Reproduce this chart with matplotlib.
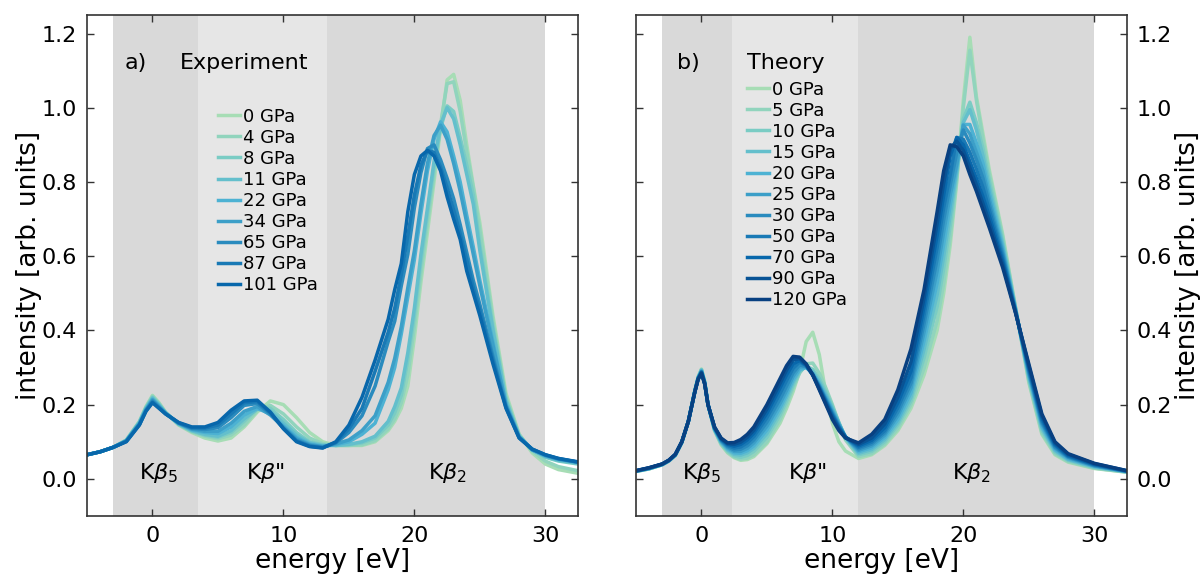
import numpy as np
import matplotlib.pyplot as plt

# energy grids (eV)
energy_exp = [-5, -4, -3, -2, -1, -0.5, 0, 0.5, 1, 2, 3, 4, 5, 6, 7, 8, 9, 10, 11, 12, 13,
              14, 15, 16, 17, 18, 18.5, 19, 19.5, 20, 20.5, 21, 21.5, 22, 22.5, 23, 23.5,
              24, 24.5, 25, 26, 27, 28, 29, 30, 31, 32.5]

energy_th = [-5, -4, -3, -2.5, -2, -1.5, -1, -0.5, -0.25, 0, 0.25, 0.5, 1, 1.5, 2, 2.5, 3,
             3.5, 4, 5, 6, 6.5, 7, 7.5, 8, 8.5, 9, 9.5, 10, 10.5, 11, 12, 13, 14, 15, 16,
             17, 18, 18.5, 19, 19.5, 20, 20.5, 21, 21.5, 22, 23, 24, 25, 26, 27, 28, 30, 32.5]

# measured spectra
exp_0 = [0.065, 0.073, 0.085, 0.105, 0.155, 0.195, 0.225, 0.205, 0.18, 0.145, 0.125, 0.11,
         0.102, 0.11, 0.14, 0.18, 0.21, 0.2, 0.165, 0.125, 0.1,
         0.09, 0.09, 0.09, 0.1, 0.13, 0.155, 0.19, 0.25, 0.38, 0.53, 0.665, 0.8, 0.945,
         1.075, 1.09, 1.02, 0.9, 0.79, 0.69, 0.44, 0.23, 0.12, 0.07, 0.04, 0.025, 0.015]
exp_4 = [0.065, 0.073, 0.085, 0.104, 0.154, 0.193, 0.223, 0.203, 0.179, 0.146, 0.127, 0.115,
         0.108, 0.118, 0.145, 0.185, 0.198, 0.175, 0.14, 0.11, 0.095,
         0.09, 0.09, 0.092, 0.103, 0.135, 0.162, 0.205, 0.28, 0.41, 0.555, 0.69, 0.82, 0.955,
         1.065, 1.07, 0.99, 0.88, 0.785, 0.67, 0.425, 0.22, 0.12, 0.075, 0.048, 0.033, 0.022]
exp_8 = [0.065, 0.073, 0.085, 0.104, 0.153, 0.191, 0.22, 0.201, 0.178, 0.147, 0.129, 0.118,
         0.112, 0.125, 0.155, 0.19, 0.19, 0.16, 0.125, 0.1, 0.092,
         0.09, 0.092, 0.097, 0.11, 0.145, 0.178, 0.225, 0.32, 0.44, 0.585, 0.715, 0.84, 0.945,
         1.005, 0.99, 0.92, 0.845, 0.765, 0.63, 0.41, 0.215, 0.115, 0.078, 0.058, 0.048, 0.04]
exp_11 = [0.065, 0.073, 0.085, 0.103, 0.152, 0.19, 0.218, 0.199, 0.178, 0.148, 0.13, 0.12,
          0.115, 0.13, 0.162, 0.188, 0.183, 0.15, 0.118, 0.097, 0.09,
          0.09, 0.093, 0.1, 0.115, 0.155, 0.195, 0.245, 0.34, 0.46, 0.605, 0.73, 0.855, 0.955,
          1.0, 0.97, 0.9, 0.82, 0.74, 0.615, 0.4, 0.21, 0.115, 0.078, 0.06, 0.05, 0.042]
exp_22 = [0.065, 0.073, 0.085, 0.103, 0.15, 0.188, 0.215, 0.197, 0.177, 0.149, 0.132, 0.125,
          0.122, 0.14, 0.172, 0.19, 0.175, 0.143, 0.112, 0.094, 0.088,
          0.092, 0.1, 0.12, 0.15, 0.24, 0.3, 0.39, 0.49, 0.59, 0.715, 0.83, 0.915, 0.962,
          0.935, 0.87, 0.8, 0.71, 0.625, 0.535, 0.37, 0.2, 0.115, 0.078, 0.062, 0.052, 0.044]
exp_34 = [0.065, 0.073, 0.085, 0.102, 0.149, 0.186, 0.213, 0.195, 0.177, 0.15, 0.134, 0.128,
          0.128, 0.15, 0.182, 0.195, 0.172, 0.14, 0.108, 0.092, 0.087,
          0.094, 0.105, 0.13, 0.17, 0.26, 0.325, 0.41, 0.515, 0.615, 0.74, 0.85, 0.925, 0.953,
          0.915, 0.85, 0.775, 0.69, 0.605, 0.52, 0.36, 0.2, 0.113, 0.078, 0.063, 0.053, 0.045]
exp_65 = [0.065, 0.073, 0.085, 0.102, 0.147, 0.185, 0.21, 0.193, 0.176, 0.15, 0.136, 0.133,
          0.138, 0.165, 0.198, 0.203, 0.175, 0.137, 0.104, 0.09, 0.085,
          0.097, 0.125, 0.17, 0.25, 0.37, 0.425, 0.52, 0.605, 0.73, 0.825, 0.89, 0.9, 0.86,
          0.81, 0.755, 0.685, 0.61, 0.535, 0.47, 0.33, 0.195, 0.112, 0.08, 0.064, 0.054, 0.045]
exp_87 = [0.065, 0.073, 0.085, 0.101, 0.146, 0.183, 0.207, 0.191, 0.175, 0.151, 0.138, 0.137,
          0.145, 0.175, 0.205, 0.208, 0.178, 0.136, 0.102, 0.088, 0.084,
          0.098, 0.135, 0.19, 0.29, 0.395, 0.46, 0.55, 0.655, 0.765, 0.845, 0.885, 0.88, 0.84,
          0.785, 0.725, 0.66, 0.59, 0.515, 0.455, 0.32, 0.192, 0.111, 0.08, 0.065, 0.055, 0.045]
exp_101 = [0.065, 0.073, 0.085, 0.1, 0.145, 0.182, 0.205, 0.19, 0.175, 0.152, 0.14, 0.14,
           0.152, 0.185, 0.21, 0.212, 0.18, 0.135, 0.1, 0.087, 0.083,
           0.1, 0.145, 0.22, 0.32, 0.43, 0.51, 0.58, 0.72, 0.82, 0.87, 0.885, 0.87, 0.83,
           0.76, 0.7, 0.645, 0.56, 0.5, 0.44, 0.31, 0.19, 0.11, 0.08, 0.065, 0.055, 0.046]

# calculated spectra
th_0 = [0.02, 0.027, 0.038, 0.048, 0.063, 0.098, 0.155, 0.238, 0.275, 0.296, 0.262, 0.2,
        0.13, 0.092, 0.07, 0.057, 0.05, 0.052, 0.06, 0.095, 0.15, 0.19, 0.235, 0.29, 0.37,
        0.395, 0.335, 0.23, 0.15, 0.1, 0.075, 0.055, 0.065, 0.09, 0.13, 0.19, 0.28, 0.4,
        0.5, 0.63, 0.8, 1.02, 1.19, 1.03, 0.93, 0.83, 0.66, 0.46, 0.26, 0.12, 0.065, 0.045,
        0.028, 0.018]
th_5 = [0.02, 0.027, 0.038, 0.048, 0.063, 0.098, 0.155, 0.238, 0.274, 0.295, 0.261, 0.2,
        0.131, 0.094, 0.072, 0.059, 0.053, 0.056, 0.065, 0.1, 0.16, 0.2, 0.245, 0.285, 0.31,
        0.312, 0.285, 0.245, 0.2, 0.15, 0.105, 0.06, 0.068, 0.094, 0.136, 0.2, 0.298, 0.426,
        0.526, 0.652, 0.808, 1.0, 1.155, 1.02, 0.915, 0.818, 0.653, 0.459, 0.264, 0.124,
        0.068, 0.047, 0.029, 0.018]
th_10 = [0.02, 0.027, 0.038, 0.048, 0.063, 0.098, 0.155, 0.238, 0.274, 0.294, 0.261, 0.2,
         0.132, 0.096, 0.075, 0.062, 0.058, 0.063, 0.074, 0.112, 0.172, 0.21, 0.252, 0.288,
         0.304, 0.295, 0.27, 0.235, 0.195, 0.152, 0.11, 0.065, 0.074, 0.1, 0.145, 0.21, 0.326,
         0.464, 0.566, 0.684, 0.819, 0.97, 1.015, 0.96, 0.89, 0.8, 0.642, 0.457, 0.27, 0.131,
         0.072, 0.05, 0.031, 0.019]
th_15 = [0.021, 0.028, 0.038, 0.048, 0.064, 0.098, 0.155, 0.237, 0.273, 0.293, 0.26, 0.2,
         0.133, 0.098, 0.078, 0.066, 0.064, 0.07, 0.082, 0.122, 0.182, 0.22, 0.26, 0.292,
         0.302, 0.288, 0.262, 0.228, 0.19, 0.15, 0.112, 0.069, 0.079, 0.106, 0.152, 0.22,
         0.349, 0.496, 0.599, 0.711, 0.829, 0.96, 0.995, 0.94, 0.87, 0.784, 0.633, 0.456,
         0.275, 0.137, 0.076, 0.052, 0.032, 0.019]
th_20 = [0.021, 0.028, 0.039, 0.049, 0.064, 0.099, 0.155, 0.237, 0.272, 0.292, 0.259, 0.2,
         0.134, 0.1, 0.081, 0.07, 0.069, 0.076, 0.089, 0.132, 0.192, 0.228, 0.267, 0.295,
         0.3, 0.284, 0.256, 0.222, 0.186, 0.148, 0.113, 0.073, 0.084, 0.112, 0.16, 0.232,
         0.372, 0.528, 0.632, 0.738, 0.838, 0.955, 0.955, 0.905, 0.85, 0.768, 0.624, 0.454,
         0.28, 0.142, 0.079, 0.054, 0.034, 0.02]
th_25 = [0.021, 0.028, 0.039, 0.049, 0.064, 0.099, 0.155, 0.237, 0.272, 0.29, 0.259, 0.2,
         0.135, 0.102, 0.084, 0.074, 0.074, 0.082, 0.097, 0.142, 0.203, 0.238, 0.276, 0.302,
         0.302, 0.283, 0.252, 0.217, 0.181, 0.146, 0.113, 0.077, 0.089, 0.118, 0.17, 0.245,
         0.395, 0.56, 0.665, 0.765, 0.848, 0.953, 0.93, 0.88, 0.83, 0.752, 0.615, 0.452,
         0.285, 0.148, 0.083, 0.057, 0.035, 0.02]
th_30 = [0.021, 0.029, 0.039, 0.049, 0.065, 0.099, 0.155, 0.236, 0.271, 0.289, 0.258, 0.2,
         0.136, 0.104, 0.087, 0.078, 0.08, 0.089, 0.105, 0.153, 0.215, 0.25, 0.286, 0.307,
         0.303, 0.282, 0.25, 0.213, 0.177, 0.143, 0.113, 0.081, 0.094, 0.124, 0.18, 0.258,
         0.418, 0.592, 0.698, 0.792, 0.88, 0.94, 0.905, 0.86, 0.81, 0.737, 0.606, 0.451,
         0.29, 0.153, 0.086, 0.059, 0.036, 0.02]
th_50 = [0.021, 0.029, 0.039, 0.049, 0.065, 0.099, 0.155, 0.236, 0.27, 0.288, 0.257, 0.2,
         0.137, 0.106, 0.09, 0.083, 0.086, 0.097, 0.114, 0.165, 0.23, 0.265, 0.298, 0.315,
         0.305, 0.28, 0.247, 0.21, 0.173, 0.14, 0.113, 0.085, 0.099, 0.13, 0.192, 0.272,
         0.441, 0.624, 0.731, 0.819, 0.92, 0.915, 0.88, 0.835, 0.785, 0.722, 0.597, 0.45,
         0.295, 0.158, 0.09, 0.061, 0.038, 0.021]
th_70 = [0.022, 0.029, 0.04, 0.05, 0.065, 0.1, 0.155, 0.236, 0.27, 0.287, 0.257, 0.2,
         0.138, 0.107, 0.093, 0.088, 0.093, 0.105, 0.123, 0.177, 0.245, 0.28, 0.31, 0.319,
         0.306, 0.28, 0.245, 0.207, 0.17, 0.138, 0.113, 0.089, 0.104, 0.138, 0.205, 0.29,
         0.464, 0.656, 0.764, 0.87, 0.92, 0.9, 0.855, 0.81, 0.76, 0.706, 0.588, 0.448, 0.3,
         0.164, 0.093, 0.063, 0.039, 0.021]
th_90 = [0.022, 0.03, 0.04, 0.05, 0.066, 0.1, 0.155, 0.235, 0.269, 0.286, 0.256, 0.2,
         0.139, 0.109, 0.095, 0.093, 0.099, 0.112, 0.131, 0.188, 0.257, 0.293, 0.321, 0.324,
         0.308, 0.28, 0.242, 0.203, 0.165, 0.134, 0.111, 0.093, 0.11, 0.148, 0.22, 0.315,
         0.487, 0.688, 0.797, 0.89, 0.91, 0.885, 0.838, 0.792, 0.742, 0.69, 0.579, 0.447,
         0.305, 0.17, 0.097, 0.066, 0.041, 0.022]
th_120 = [0.022, 0.03, 0.04, 0.05, 0.066, 0.1, 0.155, 0.235, 0.268, 0.284, 0.255, 0.2,
          0.14, 0.11, 0.097, 0.098, 0.106, 0.12, 0.14, 0.2, 0.27, 0.305, 0.33, 0.328, 0.31,
          0.28, 0.24, 0.2, 0.16, 0.13, 0.11, 0.097, 0.12, 0.16, 0.24, 0.35, 0.51, 0.72, 0.83,
          0.9, 0.895, 0.87, 0.82, 0.775, 0.725, 0.675, 0.57, 0.445, 0.31, 0.175, 0.1, 0.068,
          0.042, 0.022]

exp_labels = ['0 GPa', '4 GPa', '8 GPa', '11 GPa', '22 GPa', '34 GPa', '65 GPa', '87 GPa', '101 GPa']
th_labels = ['0 GPa', '5 GPa', '10 GPa', '15 GPa', '20 GPa', '25 GPa', '30 GPa', '50 GPa',
             '70 GPa', '90 GPa', '120 GPa']

exp_curves = [exp_0, exp_4, exp_8, exp_11, exp_22, exp_34, exp_65, exp_87, exp_101]
th_curves = [th_0, th_5, th_10, th_15, th_20, th_25, th_30, th_50, th_70, th_90, th_120]

# shaded regions of the three emission lines
exp_regions = [(-3, 3.5, '#d9d9d9'), (3.5, 13.3, '#e6e6e6'), (13.3, 30, '#d9d9d9')]
th_regions = [(-3, 2.3, '#d9d9d9'), (2.3, 11.95, '#e6e6e6'), (11.95, 30, '#d9d9d9')]

cmap = plt.get_cmap('GnBu')

fig = plt.figure(figsize=(12.02, 5.76), dpi=100)
ax1 = fig.add_axes([0.0724, 0.1042, 0.4085, 0.8698])
ax2 = fig.add_axes([0.5291, 0.1042, 0.4085, 0.8698])


def setup(ax, regions, line_pos):
    for lo, hi, col in regions:
        ax.axvspan(lo, hi, color=col, lw=0, zorder=0)
    ax.set_xlim(-5, 32.5)
    ax.set_ylim(-0.1, 1.25)
    ax.set_xticks([0, 10, 20, 30])
    ax.set_yticks([0.0, 0.2, 0.4, 0.6, 0.8, 1.0, 1.2])
    ax.tick_params(direction='in', top=True, right=True, length=5, width=1,
                   labelsize=16, pad=7, color='#333333')
    for s in ax.spines.values():
        s.set_color('#333333')
        s.set_linewidth(1.2)
    ax.set_xlabel('energy [eV]', fontsize=19, labelpad=2)
    for x, lab in zip(line_pos, [r'K$\beta_5$', r'K$\beta$"', r'K$\beta_2$']):
        ax.text(x, 0.015, lab, fontsize=16, ha='center', va='center')


setup(ax1, exp_regions, [0.45, 8.6, 22.5])
setup(ax2, th_regions, [0.0, 8.1, 20.6])

for i, (y, lab) in enumerate(zip(exp_curves, exp_labels)):
    ax1.plot(energy_exp, y, color=cmap(0.375 + 0.0625 * i), lw=2.5, label=lab)
for i, (y, lab) in enumerate(zip(th_curves, th_labels)):
    ax2.plot(energy_th, y, color=cmap(0.375 + 0.0625 * i), lw=2.5, label=lab)

ax1.set_ylabel('intensity [arb. units]', fontsize=19, labelpad=0)
ax2.yaxis.set_label_position('right')
ax2.yaxis.tick_right()
ax2.tick_params(left=True, labelleft=False, labelright=True)
ax2.set_ylabel('intensity [arb. units]', fontsize=19, labelpad=2)

ax1.text(-2.1, 1.12, 'a)', fontsize=16, va='center')
ax1.text(2.1, 1.12, 'Experiment', fontsize=16, va='center')
ax2.text(-1.9, 1.12, 'b)', fontsize=16, va='center')
ax2.text(3.5, 1.12, 'Theory', fontsize=16, va='center')

leg_kw = dict(frameon=False, fontsize=13, handlelength=1.2, handletextpad=0.2,
              labelspacing=0.17, borderpad=0, borderaxespad=0, loc='upper left')
ax1.legend(bbox_to_anchor=(0.2668, 0.815), **leg_kw)
ax2.legend(bbox_to_anchor=(0.226, 0.869), **leg_kw)

fig.savefig('out.png', dpi=100)
